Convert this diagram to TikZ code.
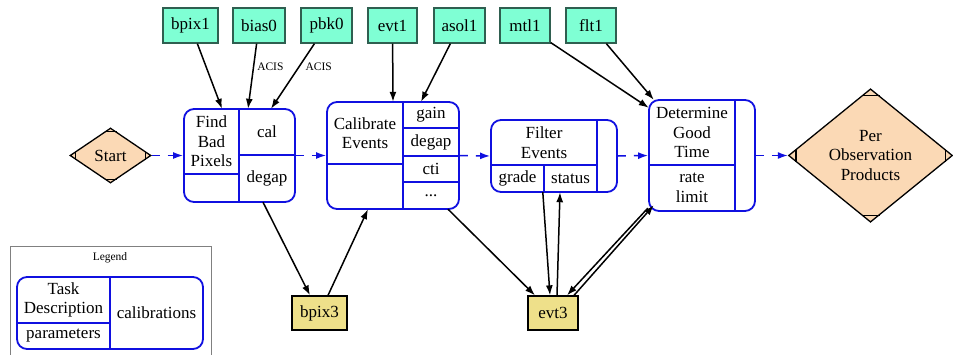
\documentclass[tikz,border=0pt]{standalone}
\usepackage{fontspec}
\setmainfont{Liberation Serif}
\usetikzlibrary{arrows.meta,shapes.geometric}

\definecolor{infill}{HTML}{7FFFD4}
\definecolor{inborder}{HTML}{2F5F50}
\definecolor{outfill}{HTML}{EEE08A}
\definecolor{termfill}{HTML}{FBD9B5}
\definecolor{taskblue}{HTML}{1010E0}

\newcommand{\boxfont}{\fontsize{17}{19.5}\selectfont}
\newcommand{\tinyfont}{\fontsize{11.5}{13}\selectfont}

\tikzset{
  infile/.style={draw=inborder, fill=infill, line width=1.3pt, minimum height=35pt, inner sep=0pt, font=\boxfont},
  outfile/.style={draw=black, fill=outfill, line width=1.3pt, minimum height=34pt, inner sep=0pt, font=\boxfont},
  endpoint/.style={diamond, draw=black, fill=termfill, line width=1.3pt, inner sep=0pt, align=center, font=\boxfont},
  cornermark/.style={black, line width=1.3pt},
  task/.style={draw=taskblue, line width=1.8pt, rounded corners=10pt, inner sep=0pt},
  cell/.style={inner sep=0pt, align=center, font=\boxfont},
  divider/.style={taskblue, line width=1.8pt},
  flow/.style={taskblue, line width=1.5pt, dash pattern=on 8pt off 8pt, -{Latex[length=10pt,width=7pt]}},
  dep/.style={black, line width=1.5pt, -{Latex[length=10pt,width=7pt]}},
  edgelabel/.style={font=\tinyfont, anchor=west, inner sep=2pt}
}

\begin{document}
\begin{tikzpicture}[x=1pt,y=-1pt]
    \useasboundingbox (0,0) rectangle (953,354);

    % input files
    \node[infile, minimum width=55pt] (bpix1) at (190.5,25.5) {bpix1};
    \node[infile, minimum width=52pt] (bias0) at (259,25.5) {bias0};
    \node[infile, minimum width=51pt] (pbk0) at (326.5,25.5) {pbk0};
    \node[infile, minimum width=49pt] (evt1) at (392.5,25.5) {evt1};
    \node[infile, minimum width=51pt] (asol1) at (459.5,25.5) {asol1};
    \node[infile, minimum width=50pt] (mtl1) at (525,25.5) {mtl1};
    \node[infile, minimum width=50pt] (flt1) at (591,25.5) {flt1};

    % output files
    \node[outfile, minimum width=55pt] (bpix3) at (319.5,313) {bpix3};
    \node[outfile, minimum width=50pt] (evt3) at (553,313) {evt3};

    % start and end
    \node[endpoint, minimum width=81pt, minimum height=55pt] (start) at (110.5,155.5) {Start};
    \draw[cornermark] ([xshift=-6pt,yshift=-4pt]start.north) -- ([xshift=6pt,yshift=-4pt]start.north);
    \draw[cornermark] ([xshift=-6pt,yshift=4pt]start.south) -- ([xshift=6pt,yshift=4pt]start.south);
    \draw[cornermark] ([xshift=6pt,yshift=4pt]start.west) -- ([xshift=6pt,yshift=-4pt]start.west);
    \draw[cornermark] ([xshift=-6pt,yshift=4pt]start.east) -- ([xshift=-6pt,yshift=-4pt]start.east);

    \node[endpoint, minimum width=164pt, minimum height=131pt] (pop) at (870.5,155.5) {Per\\Observation\\Products};
    \draw[cornermark] ([xshift=-9pt,yshift=-7pt]pop.north) -- ([xshift=9pt,yshift=-7pt]pop.north);
    \draw[cornermark] ([xshift=-9pt,yshift=7pt]pop.south) -- ([xshift=9pt,yshift=7pt]pop.south);
    \draw[cornermark] ([xshift=8pt,yshift=6pt]pop.west) -- ([xshift=8pt,yshift=-6pt]pop.west);
    \draw[cornermark] ([xshift=-8pt,yshift=6pt]pop.east) -- ([xshift=-8pt,yshift=-6pt]pop.east);

    % find bad pixels
    \node[task, minimum width=111pt, minimum height=93pt] (fbp) at (239.5,155.5) {};
    \node[cell, minimum width=55pt, minimum height=65pt] (fbp-desc) at (211.5,141.5) {Find\\Bad\\Pixels};
    \node[cell, minimum width=55pt, minimum height=28pt] (fbp-par) at (211.5,188) {};
    \node[cell, minimum width=56pt, minimum height=46pt] (fbp-cal) at (267,132) {cal};
    \node[cell, minimum width=56pt, minimum height=47pt] (fbp-degap) at (267,178.5) {degap};
    \draw[divider] (fbp-cal.north west) -- (fbp-degap.south west);
    \draw[divider] (fbp-desc.south west) -- (fbp-desc.south east);
    \draw[divider] (fbp-cal.south west) -- (fbp-cal.south east);

    % calibrate events
    \node[task, minimum width=132pt, minimum height=107pt] (ce) at (393,155.5) {};
    \node[cell, minimum width=76pt, minimum height=62pt] (ce-desc) at (365,133) {Calibrate\\Events};
    \node[cell, minimum width=76pt, minimum height=45pt] (ce-par) at (365,186.5) {};
    \node[cell, minimum width=56pt, minimum height=26pt] (ce-gain) at (431,115) {gain};
    \node[cell, minimum width=56pt, minimum height=28pt] (ce-degap) at (431,142) {degap};
    \node[cell, minimum width=56pt, minimum height=26pt] (ce-cti) at (431,169) {cti};
    \node[cell, minimum width=56pt, minimum height=27pt] (ce-more) at (431,195.5) {...};
    \draw[divider] (ce-gain.north west) -- (ce-more.south west);
    \draw[divider] (ce-desc.south west) -- (ce-desc.south east);
    \draw[divider] (ce-gain.south west) -- (ce-gain.south east);
    \draw[divider] (ce-degap.south west) -- (ce-degap.south east);
    \draw[divider] (ce-cti.south west) -- (ce-cti.south east);

    % filter events
    \node[task, minimum width=126pt, minimum height=72pt] (fe) at (554,156) {};
    \node[cell, minimum width=106pt, minimum height=45pt] (fe-desc) at (544,142.5) {Filter\\Events};
    \node[cell, minimum width=53pt, minimum height=27pt] (fe-grade) at (517.5,178.5) {grade};
    \node[cell, minimum width=53pt, minimum height=27pt] (fe-status) at (570.5,178.5) {status};
    \node[cell, minimum width=20pt, minimum height=72pt] (fe-cal) at (607,156) {};
    \draw[divider] (fe-cal.north west) -- (fe-cal.south west);
    \draw[divider] (fe-desc.south west) -- (fe-desc.south east);
    \draw[divider] (fe-status.north west) -- (fe-status.south west);

    % determine good time
    \node[task, minimum width=106pt, minimum height=111pt] (dgt) at (702,155.5) {};
    \node[cell, minimum width=86pt, minimum height=65pt] (dgt-desc) at (692,132.5) {Determine\\Good\\Time};
    \node[cell, minimum width=86pt, minimum height=46pt] (dgt-par) at (692,188) {rate\\limit};
    \node[cell, minimum width=20pt, minimum height=111pt] (dgt-cal) at (745,155.5) {};
    \draw[divider] (dgt-cal.north west) -- (dgt-cal.south west);
    \draw[divider] (dgt-desc.south west) -- (dgt-desc.south east);

    % task flow
    \draw[flow] (start.east) -- (fbp.west);
    \draw[flow] (fbp.east) -- (ce.west);
    \draw[flow] (ce.east) -- (fe.west);
    \draw[flow] (fe.east) -- (dgt.west);
    \draw[flow] (dgt.east) -- (pop.west);

    % files in and out
    \draw[dep] (bpix1) -- ([xshift=10.5pt]fbp-desc.north);
    \draw[dep] (bias0) -- ([xshift=-19pt]fbp-cal.north) node[edgelabel, pos=0.36, xshift=1pt] {ACIS};
    \draw[dep] (pbk0) -- ([xshift=4pt]fbp-cal.north) node[edgelabel, pos=0.36, xshift=4pt] {ACIS};
    \draw[dep] (evt1) -- ([xshift=28pt]ce-desc.north);
    \draw[dep] (asol1) -- ([xshift=-10pt]ce-gain.north);
    \draw[dep] (mtl1) -- ([yshift=-8pt]dgt-desc.north west);
    \draw[dep] (flt1) -- ([xshift=5pt]dgt-desc.north west);
    \draw[dep] ([xshift=-4pt]fbp-degap.south) -- ([xshift=-9.5pt]bpix3.north);
    \draw[dep] ([xshift=8.5pt]bpix3.north) -- ([xshift=3pt]ce-par.south);
    \draw[dep] ([xshift=17pt]ce-more.south) -- ([xshift=-18pt]evt3.north);
    \draw[dep] ([xshift=-1pt]fe-status.south west) -- ([xshift=-3pt]evt3.north);
    \draw[dep] ([xshift=4pt]evt3.north) -- ([xshift=-10.5pt]fe-status.south);
    \draw[dep] ([xshift=-1pt,yshift=3pt]dgt-par.south west) -- ([xshift=14pt]evt3.north);
    \draw[dep] ([xshift=21pt]evt3.north) -- ([xshift=5pt,yshift=6pt]dgt-par.south west);

    % legend
    \node[draw=gray, line width=1pt, minimum width=201pt, minimum height=116pt, inner sep=0pt] (legend) at (110.5,304) {};
    \node[font=\tinyfont] (legend-title) at (110,258) {Legend};
    \node[task, minimum width=186pt, minimum height=72pt] (lg) at (110,313) {};
    \node[cell, minimum width=93pt, minimum height=46pt] (lg-desc) at (63.5,300) {Task\\Description};
    \node[cell, minimum width=93pt, minimum height=26pt] (lg-par) at (63.5,336) {parameters};
    \node[cell, minimum width=93pt, minimum height=72pt] (lg-cal) at (156.5,313) {calibrations};
    \draw[divider] (lg-cal.north west) -- (lg-cal.south west);
    \draw[divider] (lg-desc.south west) -- (lg-desc.south east);
\end{tikzpicture}
\end{document}
